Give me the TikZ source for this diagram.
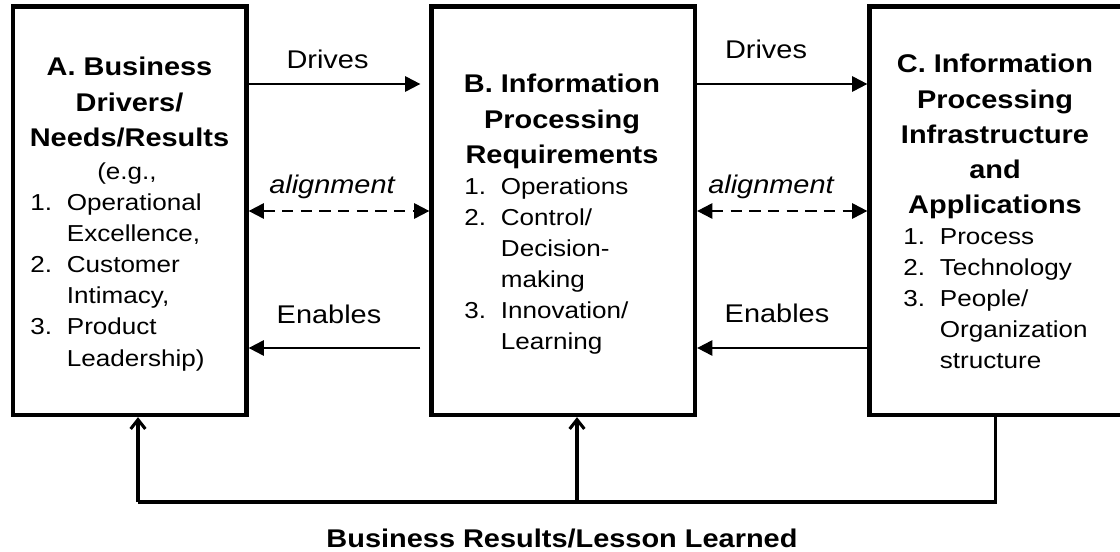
\documentclass[tikz,border=0pt]{standalone}
\usepackage{fontspec}
\setmainfont{Liberation Sans}[FakeStretch=1.13]
\usetikzlibrary{arrows.meta}
\newcommand{\ttl}{\fontsize{19.2pt}{26.4pt}\selectfont\bfseries}
\newcommand{\bdy}{\fontsize{17.3pt}{23.25pt}\selectfont}
\newcommand{\lbl}{\fontsize{19.2pt}{24pt}\selectfont}
\newcommand{\nm}[1]{\makebox[27.5pt][l]{#1}}
\begin{document}
\begin{tikzpicture}[x=0.75pt,y=-0.75pt,
  box/.style={draw,line width=3.2pt,rectangle,inner sep=0pt,minimum height={408.5*0.75pt}},
  txt/.style={inner sep=0pt,anchor=base},
  lst/.style={inner sep=0pt,anchor=base west},
  arr/.style={line width=1.6pt,-{Triangle[length=11.5pt,width=11.5pt]}},
  darr/.style={line width=1.6pt,dash pattern=on 8.5pt off 5.5pt,{Triangle[length=11.5pt,width=11.5pt]}-{Triangle[length=11.5pt,width=11.5pt]}},
  fbl/.style={line width=2.3pt},
  fba/.style={line width=2.3pt,-{Straight Barb[length=7pt,width=11pt]}}]
\useasboundingbox (0,0) rectangle (1120,552);
\begin{scope}
\clip (0,0) rectangle (1120,552);
% boxes
\node[box,minimum width={233.5*0.75pt}] (A) at (129.75,210.75) {};
\node[box,minimum width={263.5*0.75pt}] (B) at (563.25,210.75) {};
\node[box,minimum width={252.5*0.75pt}] (C) at (995.75,210.75) {};
% box texts
\node[txt] (tA) at (129.5,76) {\ttl\begin{tabular}[t]{@{}c@{}}A. Business\\Drivers/\\Needs/Results\end{tabular}};
\node[txt] (eg) at (127,180) {\bdy (e.g.,};
\node[lst] (lA) at (30,211) {\bdy\begin{tabular}[t]{@{}l@{}l@{}}\nm{1.}&Operational\\&Excellence,\\\nm{2.}&Customer\\&Intimacy,\\\nm{3.}&Product\\&Leadership)\end{tabular}};
\node[txt] (tB) at (562,93) {\ttl\begin{tabular}[t]{@{}c@{}}B. Information\\Processing\\Requirements\end{tabular}};
\node[lst] (lB) at (464,195) {\bdy\begin{tabular}[t]{@{}l@{}l@{}}\nm{1.}&Operations\\\nm{2.}&Control/\\&Decision-\\&making\\\nm{3.}&Innovation/\\&Learning\end{tabular}};
\node[txt] (tC) at (995,73) {\ttl\begin{tabular}[t]{@{}c@{}}C. Information\\Processing\\Infrastructure\\and\\Applications\end{tabular}};
\node[lst] (lC) at (903,245) {\bdy\begin{tabular}[t]{@{}l@{}l@{}}\nm{1.}&Process\\\nm{2.}&Technology\\\nm{3.}&People/\\&Organization\\&structure\end{tabular}};
% levels
\coordinate (yd) at (0,84);
\coordinate (ya) at (0,211);
\coordinate (ye) at (0,348);
% connectors
\draw[arr,shorten >=6.75pt] (A.east |- yd) -- (B.west |- yd);
\draw[darr] (A.east |- ya) -- (B.west |- ya);
\draw[arr,shorten <=6.75pt] (B.west |- ye) -- (A.east |- ye);
\draw[arr] (B.east |- yd) -- (C.west |- yd);
\draw[darr] (B.east |- ya) -- (C.west |- ya);
\draw[arr] (C.west |- ye) -- (B.east |- ye);
% labels
\node[txt] (d1) at (327.5,69) {\lbl Drives};
\node[txt] (d2) at (766,59) {\lbl Drives};
\node[txt] (a1) at (332,194) {\lbl\itshape alignment};
\node[txt] (a2) at (771,194) {\lbl\itshape alignment};
\node[txt] (e1) at (329,323) {\lbl Enables};
\node[txt] (e2) at (777,322) {\lbl Enables};
% feedback
\coordinate (fa) at (138,502);
\coordinate (fb) at (577,502);
\draw[fbl] (C.south) |- (fa);
\draw[fba] (fa) -- (fa |- A.south);
\draw[fba] (fb) -- (fb |- B.south);
\node[txt] (bt) at (562,547) {\ttl Business Results/Lesson Learned};
\end{scope}
\end{tikzpicture}
\end{document}
